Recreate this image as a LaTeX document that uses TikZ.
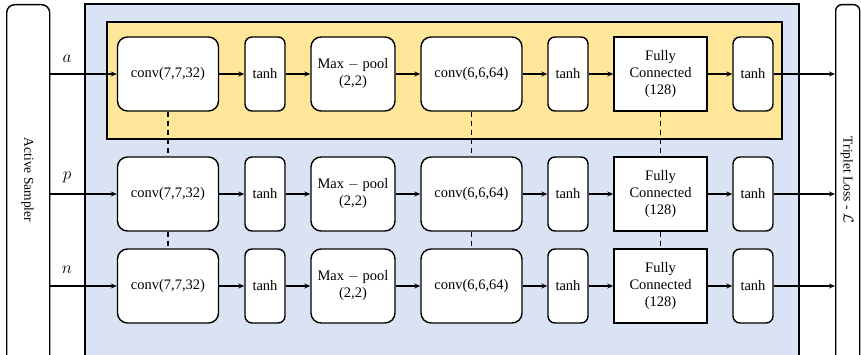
\documentclass[tikz,border=0pt]{standalone}
\usepackage{fontspec}
\setmainfont{Liberation Serif}
\usetikzlibrary{arrows.meta}
\definecolor{bluebg}{HTML}{DAE3F3}
\definecolor{yellowbg}{HTML}{FFE699}
\begin{document}
\begin{tikzpicture}[x=1pt,y=-1pt,
  every node/.style={font=\fontsize{14.5}{17}\selectfont, align=center, inner sep=0pt},
  blk/.style={draw, line width=1.4pt, fill=white, rounded corners=10pt, minimum height=74pt},
  bigblk/.style={blk, minimum width=101pt},
  thblk/.style={blk, rounded corners=7pt, minimum width=40pt},
  mpblk/.style={blk, minimum width=84pt},
  fcblk/.style={blk, rounded corners=0pt, minimum width=93pt},
  arr/.style={line width=1.1pt, -{Stealth[length=6pt,width=5pt]}},
  dsh/.style={line width=1.6pt, dash pattern=on 5pt off 4pt},
  lbl/.style={font=\fontsize{19}{19}\selectfont},
  side/.style={font=\fontsize{13.5}{16}\selectfont, rotate=-90}
]
\useasboundingbox (0,0) rectangle (861,355);
\clip (0,0) rectangle (861,355);
% containers
\draw[line width=1.4pt, fill=bluebg] (85,4) rectangle (799,370);
\draw[line width=1.4pt, fill=yellowbg] (107,22) rectangle (782,139);
\node[draw, line width=1.4pt, rounded corners=8pt, minimum width=43pt, minimum height=370pt, anchor=north west] (samp) at (6,4) {};
\node[draw, line width=1.4pt, rounded corners=6pt, minimum width=24pt, minimum height=370pt, anchor=north west] (trip) at (835,4) {};
\node[side] (samplbl) at (27.5,180) {Active Sampler};
\node[side] (triplbl) at (847,180) {Triplet Loss - $\mathcal{L}$};
% rows
\foreach \r/\y in {a/74,p/194,n/286}{
  \node[bigblk] (\r1) at (168,\y) {conv(7,7,32)};
  \node[thblk] (\r2) at (265,\y) {tanh};
  \node[mpblk] (\r3) at (353,\y) {Max $-$ pool\\(2,2)};
  \node[bigblk] (\r4) at (471.5,\y) {conv(6,6,64)};
  \node[thblk] (\r5) at (568,\y) {tanh};
  \node[fcblk] (\r6) at (660.5,\y) {Fully\\Connected\\(128)};
  \node[thblk] (\r7) at (753,\y) {tanh};
  \draw[arr] (samp.east |- \r1.west) -- (\r1.west);
  \draw[arr] (\r1) -- (\r2);
  \draw[arr] (\r2) -- (\r3);
  \draw[arr] (\r3) -- (\r4);
  \draw[arr] (\r4) -- (\r5);
  \draw[arr] (\r5) -- (\r6);
  \draw[arr] (\r6) -- (\r7);
  \draw[arr] (\r7.east) -- (\r7.east -| trip.west);
}
\node[lbl] (la) at (67,59) {$a$};
\node[lbl] (lp) at (67,177) {$p$};
\node[lbl] (ln) at (67,270) {$n$};
% shared weights
\foreach \c in {1,4,6}{
  \draw[dsh] (a\c.south) -- (p\c.north);
  \draw[dsh] (p\c.south) -- (n\c.north);
}
\end{tikzpicture}
\end{document}
